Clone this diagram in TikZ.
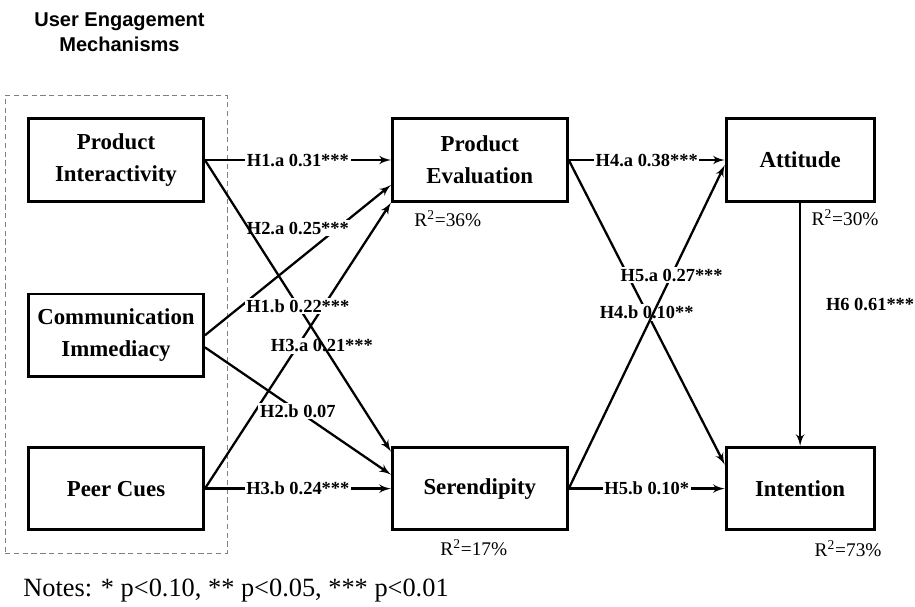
\documentclass[tikz,border=0pt]{standalone}
\usepackage{fontspec}
\setmainfont{Liberation Serif}
\setsansfont{Liberation Sans}
\usetikzlibrary{shapes,arrows,positioning,calc,fit}

\begin{document}
\begin{tikzpicture}
\tikzstyle{block} = [rectangle, draw, line width=1.6pt, minimum width=3.5cm, minimum height=1.65cm, align=center, font=\bfseries\fontsize{13}{18}\selectfont]
\tikzstyle{line} = [draw, -latex', line width=1.3pt]
\tikzstyle{coef} = [fill=white, inner sep=1pt, font=\bfseries\fontsize{10.5}{12}\selectfont]
\tikzstyle{rsq} = [inner sep=1pt, font=\fontsize{11}{13}\selectfont]

\useasboundingbox (0,0) rectangle (18.3,-12.12);

% Left column: engagement mechanisms
\node [block] (prodInter) at (2.32,-3.2) {Product\\Interactivity};
\node [block, below=1.8cm of prodInter] (commImm) {Communication\\Immediacy};
\node [block, below=1.36cm of commImm] (peerCues) {Peer Cues};

% Dashed group box with its title
\node [draw, densely dashed, gray, thin, fit=(prodInter)(peerCues), inner sep=0.44cm] (groupBox) {};
\node [above=0.74cm of groupBox, xshift=0.07cm, align=center, font=\sffamily\bfseries\fontsize{11.4}{14}\selectfont] (title) {User Engagement\\Mechanisms};

% Mediators and outcomes
\node [block, right=3.72cm of prodInter] (prodEval) {Product\\Evaluation};
\node [block, right=3.72cm of peerCues] (seren) {Serendipity};
\node [block, minimum width=2.96cm, right=3.12cm of prodEval] (attitude) {Attitude};
\node [block, minimum width=2.96cm, right=3.12cm of seren] (intention) {Intention};

% R-squared values
\node [rsq] (rsqEval) at ([xshift=-0.64cm, yshift=-0.32cm]prodEval.south) {R\textsuperscript{2}=36\%};
\node [rsq] (rsqAtt) at ([xshift=0.9cm, yshift=-0.3cm]attitude.south) {R\textsuperscript{2}=30\%};
\node [rsq] (rsqSer) at ([xshift=-0.12cm, yshift=-0.32cm]seren.south) {R\textsuperscript{2}=17\%};
\node [rsq] (rsqInt) at ([xshift=0.96cm, yshift=-0.34cm]intention.south) {R\textsuperscript{2}=73\%};

\node [anchor=west, inner sep=0pt, font=\fontsize{15}{17}\selectfont] (notes) at (0.46,-11.82) {Notes: * p<0.10, ** p<0.05, *** p<0.01};

% Connections into Product Evaluation and Serendipity
\draw [line] (prodInter.east) -- node [coef] {H1.a 0.31***} (prodEval.west);
\draw [line] (peerCues.east) -- node [coef, xshift=0.48cm] {H3.a 0.21***} (prodEval.south west);
\draw [line] (commImm.east) -- node [coef, yshift=0.64cm] {H2.a 0.25***} ([yshift=-0.5cm]prodEval.west);
\draw [line] ([yshift=-0.24cm]commImm.east) -- node [coef] {H2.b 0.07} ([yshift=0.28cm]seren.west);
\draw [line] (prodInter.east) -- node [coef] {H1.b 0.22***} ([yshift=0.74cm]seren.west);
\draw [line] (peerCues.east) -- node [coef] {H3.b 0.24***} (seren.west);

% Connections into Attitude and Intention
\draw [line] (prodEval.east) -- node [coef] {H4.a 0.38***} (attitude.west);
\draw [line] (prodEval.east) -- node [coef] {H4.b 0.10**} ([yshift=0.48cm]intention.west);
\draw [line] (seren.east) -- node [coef, pos=0.66] {H5.a 0.27***} ([yshift=-0.1cm]attitude.west);
\draw [line] (seren.east) -- node [coef] {H5.b 0.10*} (intention.west);
\draw [line] (attitude.south) -- node [coef, pos=0.42, right=0.46cm] {H6 0.61***} (intention.north);

\end{tikzpicture}
\end{document}
